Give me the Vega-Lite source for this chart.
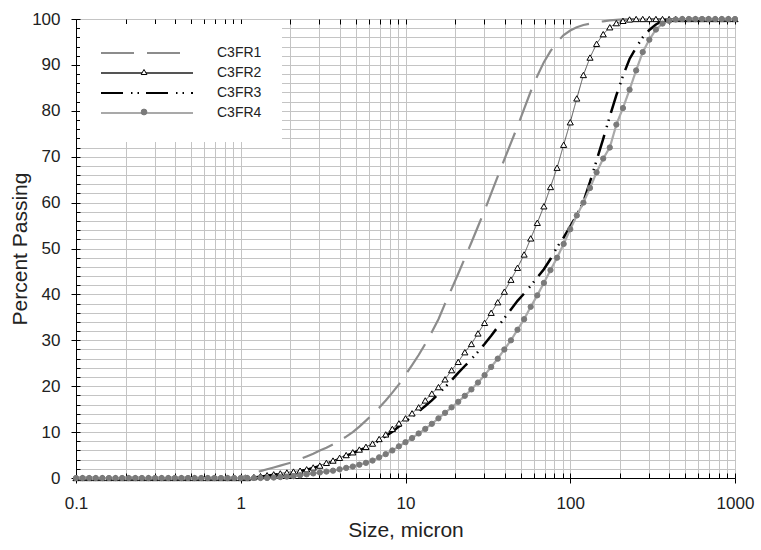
{
  "$schema": "https://vega.github.io/schema/vega-lite/v6.json",
  "width": 659,
  "height": 459,
  "autosize": {"type": "none"},
  "padding": {"left": 76, "top": 19, "right": 26, "bottom": 72},
  "background": "white",
  "config": {
    "view": {"stroke": "black", "strokeWidth": 1},
    "axis": {
      "labelFont": "Liberation Sans",
      "titleFont": "Liberation Sans",
      "labelColor": "#222222",
      "titleColor": "#222222",
      "domainColor": "black",
      "tickColor": "black",
      "gridColor": "#c4c4c4",
      "gridWidth": 1,
      "titleFontWeight": "normal"
    },
    "legend": {"labelFont": "Liberation Sans", "labelColor": "#222222"}
  },
  "data": {
    "values": [
      {"x": 0.1, "C3FR1": 0, "C3FR2": 0, "C3FR3": 0, "C3FR4": 0},
      {"x": 0.1096, "C3FR1": 0, "C3FR2": 0, "C3FR3": 0, "C3FR4": 0},
      {"x": 0.1202, "C3FR1": 0, "C3FR2": 0, "C3FR3": 0, "C3FR4": 0},
      {"x": 0.1318, "C3FR1": 0, "C3FR2": 0, "C3FR3": 0, "C3FR4": 0},
      {"x": 0.1445, "C3FR1": 0, "C3FR2": 0, "C3FR3": 0, "C3FR4": 0},
      {"x": 0.1585, "C3FR1": 0, "C3FR2": 0, "C3FR3": 0, "C3FR4": 0},
      {"x": 0.1738, "C3FR1": 0, "C3FR2": 0, "C3FR3": 0, "C3FR4": 0},
      {"x": 0.1905, "C3FR1": 0, "C3FR2": 0, "C3FR3": 0, "C3FR4": 0},
      {"x": 0.2089, "C3FR1": 0, "C3FR2": 0, "C3FR3": 0, "C3FR4": 0},
      {"x": 0.2291, "C3FR1": 0, "C3FR2": 0, "C3FR3": 0, "C3FR4": 0},
      {"x": 0.2512, "C3FR1": 0, "C3FR2": 0, "C3FR3": 0, "C3FR4": 0},
      {"x": 0.2754, "C3FR1": 0, "C3FR2": 0, "C3FR3": 0, "C3FR4": 0},
      {"x": 0.302, "C3FR1": 0, "C3FR2": 0, "C3FR3": 0, "C3FR4": 0},
      {"x": 0.3311, "C3FR1": 0, "C3FR2": 0, "C3FR3": 0, "C3FR4": 0},
      {"x": 0.3631, "C3FR1": 0, "C3FR2": 0, "C3FR3": 0, "C3FR4": 0},
      {"x": 0.3981, "C3FR1": 0, "C3FR2": 0, "C3FR3": 0, "C3FR4": 0},
      {"x": 0.4365, "C3FR1": 0, "C3FR2": 0, "C3FR3": 0, "C3FR4": 0},
      {"x": 0.4786, "C3FR1": 0, "C3FR2": 0, "C3FR3": 0, "C3FR4": 0},
      {"x": 0.5248, "C3FR1": 0, "C3FR2": 0, "C3FR3": 0, "C3FR4": 0},
      {"x": 0.5754, "C3FR1": 0, "C3FR2": 0, "C3FR3": 0, "C3FR4": 0},
      {"x": 0.631, "C3FR1": 0, "C3FR2": 0, "C3FR3": 0, "C3FR4": 0},
      {"x": 0.6918, "C3FR1": 0, "C3FR2": 0, "C3FR3": 0, "C3FR4": 0},
      {"x": 0.7586, "C3FR1": 0, "C3FR2": 0, "C3FR3": 0, "C3FR4": 0},
      {"x": 0.8318, "C3FR1": 0, "C3FR2": 0, "C3FR3": 0, "C3FR4": 0},
      {"x": 0.912, "C3FR1": 0, "C3FR2": 0, "C3FR3": 0, "C3FR4": 0},
      {"x": 1, "C3FR1": 0, "C3FR2": 0, "C3FR3": 0, "C3FR4": 0},
      {"x": 1.096, "C3FR1": 0.7, "C3FR2": 0, "C3FR3": 0, "C3FR4": 0},
      {"x": 1.202, "C3FR1": 1.2, "C3FR2": 0.2, "C3FR3": 0.1, "C3FR4": 0},
      {"x": 1.318, "C3FR1": 1.5, "C3FR2": 0.4, "C3FR3": 0.3, "C3FR4": 0},
      {"x": 1.445, "C3FR1": 1.9, "C3FR2": 0.6, "C3FR3": 0.5, "C3FR4": 0},
      {"x": 1.585, "C3FR1": 2.3, "C3FR2": 0.8, "C3FR3": 0.7, "C3FR4": 0.1},
      {"x": 1.738, "C3FR1": 2.7, "C3FR2": 1.0, "C3FR3": 0.9, "C3FR4": 0.2},
      {"x": 1.905, "C3FR1": 3.1, "C3FR2": 1.2, "C3FR3": 1.1, "C3FR4": 0.3},
      {"x": 2.089, "C3FR1": 3.5, "C3FR2": 1.4, "C3FR3": 1.3, "C3FR4": 0.4},
      {"x": 2.291, "C3FR1": 4.1, "C3FR2": 1.6, "C3FR3": 1.5, "C3FR4": 0.6},
      {"x": 2.512, "C3FR1": 4.7, "C3FR2": 1.9, "C3FR3": 1.8, "C3FR4": 0.8},
      {"x": 2.754, "C3FR1": 5.3, "C3FR2": 2.3, "C3FR3": 2.2, "C3FR4": 1.0},
      {"x": 3.02, "C3FR1": 6.0, "C3FR2": 2.7, "C3FR3": 2.6, "C3FR4": 1.2},
      {"x": 3.311, "C3FR1": 6.6, "C3FR2": 3.3, "C3FR3": 3.1, "C3FR4": 1.4},
      {"x": 3.631, "C3FR1": 7.3, "C3FR2": 3.8, "C3FR3": 3.6, "C3FR4": 1.6},
      {"x": 3.981, "C3FR1": 8.1, "C3FR2": 4.4, "C3FR3": 4.2, "C3FR4": 1.9},
      {"x": 4.365, "C3FR1": 9.0, "C3FR2": 5.0, "C3FR3": 4.8, "C3FR4": 2.2},
      {"x": 4.786, "C3FR1": 10.0, "C3FR2": 5.6, "C3FR3": 5.4, "C3FR4": 2.5},
      {"x": 5.248, "C3FR1": 11.2, "C3FR2": 6.2, "C3FR3": 6.0, "C3FR4": 2.9},
      {"x": 5.754, "C3FR1": 12.5, "C3FR2": 6.8, "C3FR3": 6.6, "C3FR4": 3.3},
      {"x": 6.31, "C3FR1": 13.9, "C3FR2": 7.5, "C3FR3": 7.3, "C3FR4": 3.8},
      {"x": 6.918, "C3FR1": 15.3, "C3FR2": 8.5, "C3FR3": 8.2, "C3FR4": 4.5},
      {"x": 7.586, "C3FR1": 16.9, "C3FR2": 9.5, "C3FR3": 9.1, "C3FR4": 5.2},
      {"x": 8.318, "C3FR1": 18.6, "C3FR2": 10.7, "C3FR3": 10.1, "C3FR4": 6.0},
      {"x": 9.12, "C3FR1": 20.4, "C3FR2": 11.9, "C3FR3": 11.2, "C3FR4": 6.9},
      {"x": 10, "C3FR1": 22.5, "C3FR2": 13.0, "C3FR3": 12.3, "C3FR4": 7.8},
      {"x": 10.96, "C3FR1": 24.6, "C3FR2": 14.1, "C3FR3": 13.4, "C3FR4": 8.7},
      {"x": 12.02, "C3FR1": 26.8, "C3FR2": 15.4, "C3FR3": 14.5, "C3FR4": 9.7},
      {"x": 13.18, "C3FR1": 29.2, "C3FR2": 16.9, "C3FR3": 15.7, "C3FR4": 10.7},
      {"x": 14.45, "C3FR1": 31.8, "C3FR2": 18.4, "C3FR3": 16.9, "C3FR4": 11.8},
      {"x": 15.85, "C3FR1": 34.6, "C3FR2": 19.8, "C3FR3": 18.3, "C3FR4": 13.0},
      {"x": 17.38, "C3FR1": 38.0, "C3FR2": 21.5, "C3FR3": 19.8, "C3FR4": 14.2},
      {"x": 19.05, "C3FR1": 41.2, "C3FR2": 23.5, "C3FR3": 21.3, "C3FR4": 15.4},
      {"x": 20.89, "C3FR1": 44.5, "C3FR2": 25.3, "C3FR3": 22.9, "C3FR4": 16.6},
      {"x": 22.91, "C3FR1": 47.9, "C3FR2": 27.4, "C3FR3": 24.4, "C3FR4": 17.9},
      {"x": 25.12, "C3FR1": 51.3, "C3FR2": 29.2, "C3FR3": 25.9, "C3FR4": 19.3},
      {"x": 27.54, "C3FR1": 54.8, "C3FR2": 31.5, "C3FR3": 27.5, "C3FR4": 20.8},
      {"x": 30.2, "C3FR1": 58.3, "C3FR2": 33.8, "C3FR3": 29.2, "C3FR4": 22.4},
      {"x": 33.11, "C3FR1": 62.0, "C3FR2": 36.0, "C3FR3": 31.0, "C3FR4": 24.2},
      {"x": 36.31, "C3FR1": 65.7, "C3FR2": 38.3, "C3FR3": 32.9, "C3FR4": 26.0},
      {"x": 39.81, "C3FR1": 69.4, "C3FR2": 40.6, "C3FR3": 34.8, "C3FR4": 28.0},
      {"x": 43.65, "C3FR1": 73.0, "C3FR2": 43.2, "C3FR3": 36.7, "C3FR4": 30.0},
      {"x": 47.86, "C3FR1": 76.6, "C3FR2": 45.8, "C3FR3": 38.6, "C3FR4": 32.3},
      {"x": 52.48, "C3FR1": 80.4, "C3FR2": 48.7, "C3FR3": 40.2, "C3FR4": 34.6},
      {"x": 57.54, "C3FR1": 84.2, "C3FR2": 52.2, "C3FR3": 41.9, "C3FR4": 37.3},
      {"x": 63.1, "C3FR1": 87.6, "C3FR2": 55.6, "C3FR3": 43.7, "C3FR4": 39.8},
      {"x": 69.18, "C3FR1": 90.6, "C3FR2": 59.2, "C3FR3": 45.5, "C3FR4": 42.5},
      {"x": 75.86, "C3FR1": 93.0, "C3FR2": 63.4, "C3FR3": 47.7, "C3FR4": 45.3},
      {"x": 83.18, "C3FR1": 95.0, "C3FR2": 67.6, "C3FR3": 50.3, "C3FR4": 48.0},
      {"x": 91.2, "C3FR1": 96.5, "C3FR2": 72.6, "C3FR3": 52.4, "C3FR4": 51.0},
      {"x": 100, "C3FR1": 97.5, "C3FR2": 77.5, "C3FR3": 54.8, "C3FR4": 54.2},
      {"x": 109.6, "C3FR1": 98.2, "C3FR2": 82.7, "C3FR3": 57.3, "C3FR4": 57.2},
      {"x": 120.2, "C3FR1": 98.7, "C3FR2": 87.8, "C3FR3": 60.2, "C3FR4": 60.0},
      {"x": 131.8, "C3FR1": 99.0, "C3FR2": 91.6, "C3FR3": 64.5, "C3FR4": 63.2},
      {"x": 144.5, "C3FR1": 99.3, "C3FR2": 94.6, "C3FR3": 69.2, "C3FR4": 66.6},
      {"x": 158.5, "C3FR1": 99.5, "C3FR2": 96.7, "C3FR3": 73.9, "C3FR4": 69.6},
      {"x": 173.8, "C3FR1": 99.7, "C3FR2": 98.2, "C3FR3": 78.8, "C3FR4": 72.0},
      {"x": 190.5, "C3FR1": 99.8, "C3FR2": 99.1, "C3FR3": 83.4, "C3FR4": 77.0},
      {"x": 208.9, "C3FR1": 99.9, "C3FR2": 99.6, "C3FR3": 87.6, "C3FR4": 80.6},
      {"x": 229.1, "C3FR1": 100, "C3FR2": 99.9, "C3FR3": 91.3, "C3FR4": 84.6},
      {"x": 251.2, "C3FR1": 100, "C3FR2": 100, "C3FR3": 93.8, "C3FR4": 88.8},
      {"x": 275.4, "C3FR1": 100, "C3FR2": 100, "C3FR3": 96.0, "C3FR4": 92.8},
      {"x": 302, "C3FR1": 100, "C3FR2": 100, "C3FR3": 97.6, "C3FR4": 95.5},
      {"x": 331.1, "C3FR1": 100, "C3FR2": 100, "C3FR3": 98.8, "C3FR4": 97.7},
      {"x": 363.1, "C3FR1": 100, "C3FR2": 100, "C3FR3": 99.6, "C3FR4": 99.0},
      {"x": 398.1, "C3FR1": 100, "C3FR2": 100, "C3FR3": 100, "C3FR4": 99.6},
      {"x": 436.5, "C3FR1": 100, "C3FR2": 100, "C3FR3": 100, "C3FR4": 99.9},
      {"x": 478.6, "C3FR1": 100, "C3FR2": 100, "C3FR3": 100, "C3FR4": 100},
      {"x": 524.8, "C3FR1": 100, "C3FR2": 100, "C3FR3": 100, "C3FR4": 100},
      {"x": 575.4, "C3FR1": 100, "C3FR2": 100, "C3FR3": 100, "C3FR4": 100},
      {"x": 631, "C3FR1": 100, "C3FR2": 100, "C3FR3": 100, "C3FR4": 100},
      {"x": 691.8, "C3FR1": 100, "C3FR2": 100, "C3FR3": 100, "C3FR4": 100},
      {"x": 758.6, "C3FR1": 100, "C3FR2": 100, "C3FR3": 100, "C3FR4": 100},
      {"x": 831.8, "C3FR1": 100, "C3FR2": 100, "C3FR3": 100, "C3FR4": 100},
      {"x": 912, "C3FR1": 100, "C3FR2": 100, "C3FR3": 100, "C3FR4": 100},
      {"x": 1000, "C3FR1": 100, "C3FR2": 100, "C3FR3": 100, "C3FR4": 100}
    ]
  },
  "transform": [{"fold": ["C3FR1", "C3FR2", "C3FR3", "C3FR4"], "as": ["series", "pct"]}],
  "resolve": {"axis": {"x": "independent", "y": "independent"}},
  "layer": [
    {
      "mark": {"type": "line", "strokeCap": "butt"},
      "encoding": {
        "x": {
          "field": "x", "type": "quantitative",
          "scale": {"type": "log", "domain": [0.1, 1000], "nice": false},
          "axis": {
            "orient": "bottom",
            "values": [0.1,0.2,0.3,0.4,0.5,0.6,0.7,0.8,0.9,1,2,3,4,5,6,7,8,9,10,20,30,40,50,60,70,80,90,100,200,300,400,500,600,700,800,900,1000],
            "grid": true,
            "tickSize": 5,
            "tickOpacity": {"condition": {"test": "datum.value === 0.1 || datum.value === 1 || datum.value === 10 || datum.value === 100 || datum.value === 1000", "value": 1}, "value": 0},
            "labelExpr": "(datum.value === 0.1 || datum.value === 1 || datum.value === 10 || datum.value === 100 || datum.value === 1000) ? '' + datum.value : ''",
            "labelOverlap": false,
            "labelFlush": false,
            "labelFontSize": 17,
            "labelPadding": 12,
            "title": "Size, micron",
            "titleFontSize": 21,
            "titlePadding": 8
          }
        },
        "y": {
          "field": "pct", "type": "quantitative",
          "scale": {"domain": [0, 100], "nice": false},
          "axis": {
            "orient": "left",
            "values": [0,2,4,6,8,10,12,14,16,18,20,22,24,26,28,30,32,34,36,38,40,42,44,46,48,50,52,54,56,58,60,62,64,66,68,70,72,74,76,78,80,82,84,86,88,90,92,94,96,98,100],
            "grid": true,
            "tickSize": 5,
            "tickOpacity": {"condition": {"test": "datum.value % 10 === 0", "value": 1}, "value": 0},
            "labelExpr": "datum.value % 10 === 0 ? '' + datum.value : ''",
            "labelOverlap": false,
            "labelFlush": false,
            "labelFontSize": 17,
            "labelPadding": 11,
            "title": "Percent Passing",
            "titleFontSize": 21,
            "titlePadding": 1
          }
        },
        "color": {
          "field": "series", "type": "nominal",
          "scale": {"domain": ["C3FR1", "C3FR2", "C3FR3", "C3FR4"], "range": ["#8c8c8c", "#555555", "#000000", "#a9a9a9"]},
          "legend": {
            "orient": "none",
            "legendX": 4,
            "legendY": 5,
            "padding": 20,
            "fillColor": "white",
            "title": null,
            "symbolSize": 8464,
            "symbolType": "stroke",
            "symbolStrokeWidth": 2,
            "clipHeight": 18,
            "rowPadding": 2,
            "labelOffset": 23,
            "labelFontSize": 14,
            "zindex": 1
          }
        },
        "strokeDash": {
          "field": "series", "type": "nominal",
          "scale": {"domain": ["C3FR1", "C3FR2", "C3FR3", "C3FR4"], "range": [[33, 13], [1, 0], [22, 8, 1.5, 5, 1.5, 7], [1, 0]]}
        },
        "strokeWidth": {"condition": [
          {"test": "datum.series === 'C3FR2'", "value": 1},
          {"test": "datum.series === 'C3FR3'", "value": 2.5}
        ], "value": 2.2}
      }
    },
    {
      "mark": {"type": "point", "opacity": 1, "strokeWidth": 1},
      "encoding": {
        "x": {
          "field": "x", "type": "quantitative",
          "axis": {
            "orient": "bottom",
            "values": [0.1,0.2,0.3,0.4,0.5,0.6,0.7,0.8,0.9,1,2,3,4,5,6,7,8,9,10,20,30,40,50,60,70,80,90,100,200,300,400,500,600,700,800,900,1000],
            "offset": -5, "tickSize": 5, "domain": false, "labels": false, "grid": false, "title": null
          }
        },
        "y": {
          "field": "pct", "type": "quantitative",
          "axis": {
            "orient": "left",
            "values": [0,2,4,6,8,10,12,14,16,18,20,22,24,26,28,30,32,34,36,38,40,42,44,46,48,50,52,54,56,58,60,62,64,66,68,70,72,74,76,78,80,82,84,86,88,90,92,94,96,98,100],
            "offset": -4, "tickSize": 4, "domain": false, "labels": false, "grid": false, "title": null
          }
        },
        "shape": {
          "field": "series", "type": "nominal",
          "scale": {"range": ["circle", "triangle-up", "circle", "circle"]},
          "legend": {
            "orient": "none",
            "legendX": 64.5,
            "legendY": 24,
            "padding": 0,
            "title": null,
            "symbolSize": 34,
            "symbolStrokeWidth": 1,
            "clipHeight": 18,
            "rowPadding": 2,
            "labelOpacity": 0,
            "labelFontSize": 1,
            "zindex": 2
          }
        },
        "fill": {
          "field": "series", "type": "nominal",
          "scale": {"range": ["transparent", "white", "transparent", "#7a7a7a"]}
        },
        "stroke": {
          "field": "series", "type": "nominal",
          "scale": {"range": ["transparent", "black", "transparent", "#7a7a7a"]}
        },
        "size": {"condition": {"test": "datum.series === 'C3FR2'", "value": 38}, "value": 28}
      }
    },
    {
      "mark": {"type": "point", "opacity": 0},
      "encoding": {
        "x": {
          "field": "x", "type": "quantitative",
          "axis": {
            "orient": "top",
            "values": [0.1,0.2,0.3,0.4,0.5,0.6,0.7,0.8,0.9,1,2,3,4,5,6,7,8,9,10,20,30,40,50,60,70,80,90,100,200,300,400,500,600,700,800,900,1000],
            "offset": -5, "tickSize": 5, "domain": false, "labels": false, "grid": false, "title": null
          }
        },
        "y": {"field": "pct", "type": "quantitative", "axis": null}
      }
    }
  ]
}
